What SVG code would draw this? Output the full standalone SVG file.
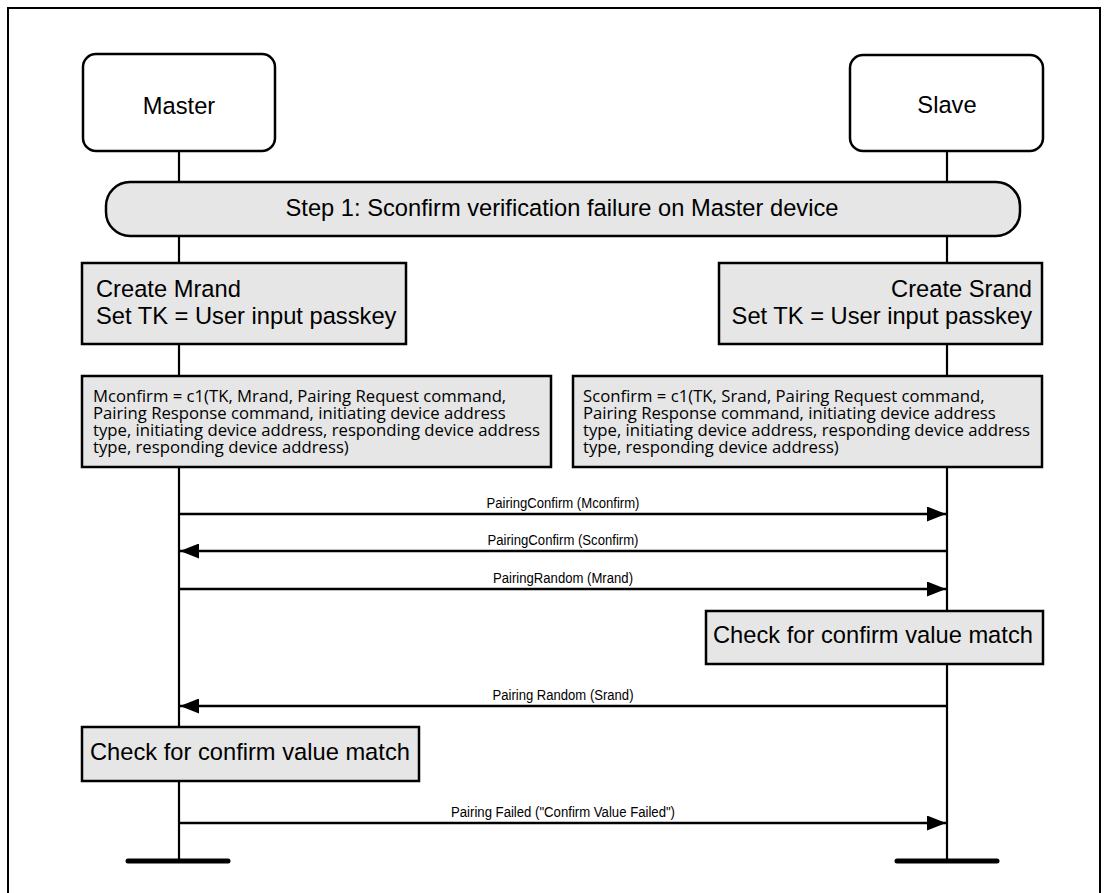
<svg xmlns="http://www.w3.org/2000/svg" width="1109" height="893" viewBox="0 0 1109 893">
  <style>
    .frame { fill: none; stroke: #000; stroke-width: 2; }
    .life { stroke: #000; stroke-width: 2.2; fill: none; }
    .endbar { stroke: #000; stroke-width: 5; stroke-linecap: round; }
    .actor { fill: #fff; stroke: #000; stroke-width: 2.5; }
    .box { fill: #e6e6e6; stroke: #000; stroke-width: 2.5; }
    .big { font-family: "Liberation Sans", Arial, sans-serif; font-size: 23.7px; fill: #000; }
    .small { font-family: "Open Sans", "Noto Sans", sans-serif; font-size: 16.7px; fill: #000; }
    .msg { stroke: #000; stroke-width: 2.6; fill: none; }
    .lbl { font-family: "Liberation Sans", Arial, sans-serif; font-size: 15.5px; fill: #000; text-anchor: middle; }
  </style>
  <defs>
    <marker id="arrow" viewBox="0 0 19 15" refX="19" refY="7.5" markerWidth="19" markerHeight="15" markerUnits="userSpaceOnUse" orient="auto">
      <path d="M0,0 L19,7.5 L0,15 z" fill="#000"/>
    </marker>
  </defs>
  <rect width="1109" height="893" fill="#fff"/>
  <path class="frame" d="M8,893 V8 H1100 V893"/>

  <g id="lifelines">
    <line class="life" x1="179" y1="151" x2="179" y2="861"/>
    <line class="life" x1="947" y1="151" x2="947" y2="861"/>
    <line class="endbar" x1="128" y1="861" x2="228" y2="861"/>
    <line class="endbar" x1="897" y1="861" x2="997" y2="861"/>
  </g>

  <g id="master">
    <rect class="actor" x="83" y="54" width="192" height="97" rx="13"/>
    <text class="big" x="179" y="114" text-anchor="middle">Master</text>
  </g>
  <g id="slave">
    <rect class="actor" x="850" y="55" width="193" height="96" rx="13"/>
    <text class="big" x="947" y="113" text-anchor="middle">Slave</text>
  </g>

  <g id="step1">
    <rect class="box" x="106" y="182" width="914" height="54" rx="24"/>
    <text class="big" x="562" y="216" text-anchor="middle">Step 1: Sconfirm verification failure on Master device</text>
  </g>

  <g id="create-mrand">
    <rect class="box" x="82" y="263" width="324" height="81"/>
    <text class="big" x="96" y="297">Create Mrand<tspan x="96" y="324">Set TK = User input passkey</tspan></text>
  </g>
  <g id="create-srand">
    <rect class="box" x="719" y="263" width="323" height="81"/>
    <text class="big" x="1032" y="297" text-anchor="end">Create Srand<tspan x="1032" y="324">Set TK = User input passkey</tspan></text>
  </g>

  <g id="mconfirm">
    <rect class="box" x="82" y="376" width="469" height="91"/>
    <text class="small" x="93" y="401.5">Mconfirm = c1(TK, Mrand, Pairing Request command,<tspan x="93" y="418.5">Pairing Response command, initiating device address</tspan><tspan x="93" y="435.5">type, initiating device address, responding device address</tspan><tspan x="93" y="452.5">type, responding device address)</tspan></text>
  </g>
  <g id="sconfirm">
    <rect class="box" x="573" y="376" width="469" height="91"/>
    <text class="small" x="583" y="401.5">Sconfirm = c1(TK, Srand, Pairing Request command,<tspan x="583" y="418.5">Pairing Response command, initiating device address</tspan><tspan x="583" y="435.5">type, initiating device address, responding device address</tspan><tspan x="583" y="452.5">type, responding device address)</tspan></text>
  </g>

  <g id="check-slave">
    <rect class="box" x="706" y="611" width="337" height="53"/>
    <text class="big" x="713" y="643">Check for confirm value match</text>
  </g>
  <g id="check-master">
    <rect class="box" x="82" y="727" width="337" height="54"/>
    <text class="big" x="90" y="760">Check for confirm value match</text>
  </g>

  <g id="connectors">
    <line class="msg" x1="179" y1="514" x2="946" y2="514" marker-end="url(#arrow)"/>
    <text class="lbl" x="563" y="507.5" textLength="153" lengthAdjust="spacingAndGlyphs">PairingConfirm (Mconfirm)</text>
    <line class="msg" x1="947" y1="551" x2="180" y2="551" marker-end="url(#arrow)"/>
    <text class="lbl" x="563" y="544.5" textLength="151" lengthAdjust="spacingAndGlyphs">PairingConfirm (Sconfirm)</text>
    <line class="msg" x1="179" y1="589" x2="946" y2="589" marker-end="url(#arrow)"/>
    <text class="lbl" x="563" y="582.5" textLength="140" lengthAdjust="spacingAndGlyphs">PairingRandom (Mrand)</text>
    <line class="msg" x1="947" y1="706" x2="180" y2="706" marker-end="url(#arrow)"/>
    <text class="lbl" x="563" y="699.5" textLength="141" lengthAdjust="spacingAndGlyphs">Pairing Random (Srand)</text>
    <line class="msg" x1="179" y1="823" x2="946" y2="823" marker-end="url(#arrow)"/>
    <text class="lbl" x="563" y="816.5" textLength="224" lengthAdjust="spacingAndGlyphs">Pairing Failed ("Confirm Value Failed")</text>
  </g>
</svg>
